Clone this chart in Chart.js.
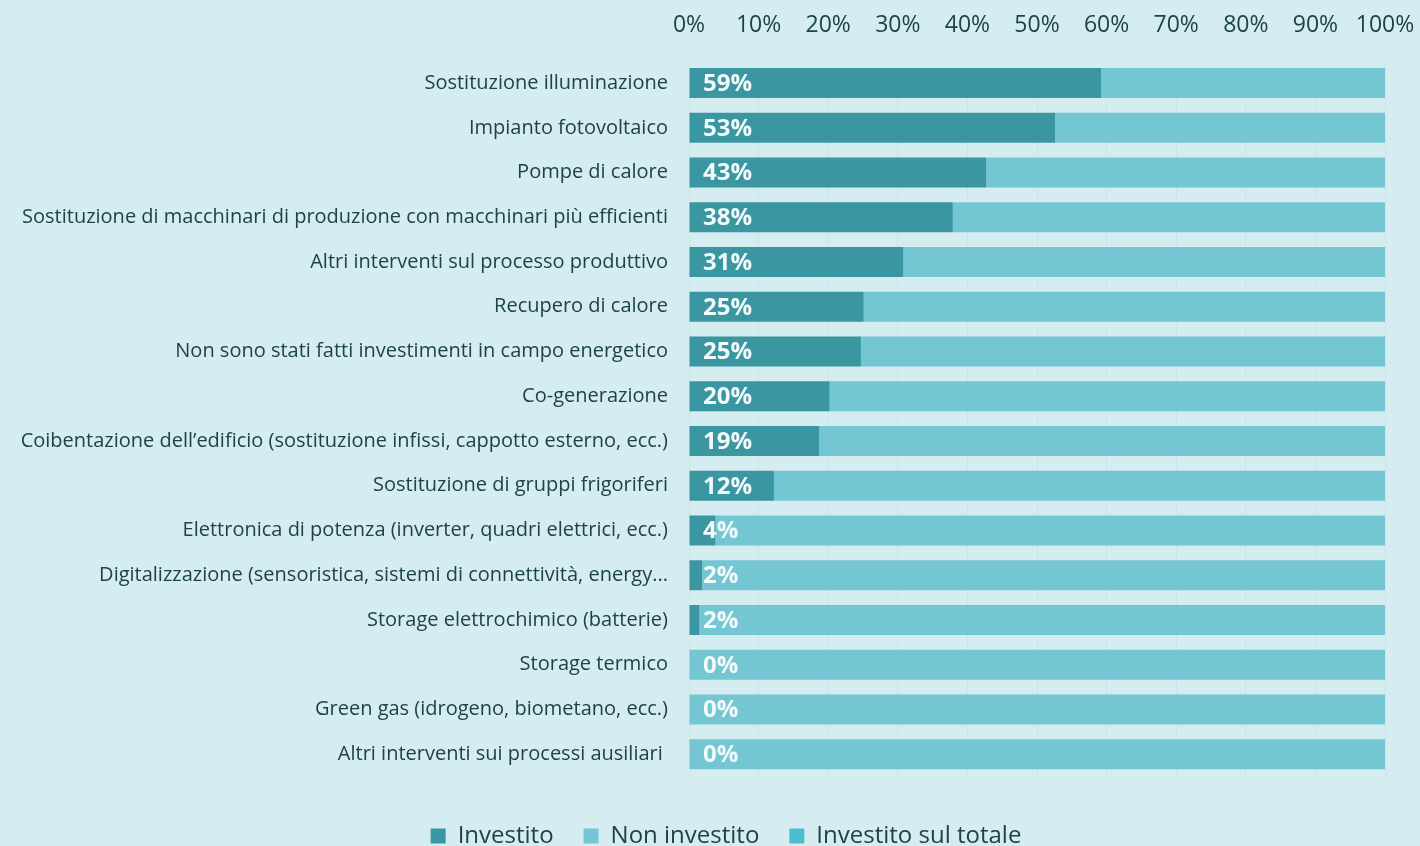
<!DOCTYPE html>
<html>
<head>
<meta charset="utf-8">
<script src="https://cdn.jsdelivr.net/npm/chart.js@4"></script>
<style>
  html, body { margin: 0; padding: 0; background: #d5ecf0; overflow: hidden; }
  #wrap { width: 1420px; height: 858px; position: relative; }
</style>
</head>
<body>
<div id="wrap"><canvas id="chart"></canvas></div>
<script>
const categories = [
  'Sostituzione illuminazione',
  'Impianto fotovoltaico',
  'Pompe di calore',
  'Sostituzione di macchinari di produzione con macchinari più efficienti',
  'Altri interventi sul processo produttivo',
  'Recupero di calore',
  'Non sono stati fatti investimenti in campo energetico',
  'Co-generazione',
  'Coibentazione dell\u2019edificio (sostituzione infissi, cappotto esterno, ecc.)',
  'Sostituzione di gruppi frigoriferi',
  'Elettronica di potenza (inverter, quadri elettrici, ecc.)',
  'Digitalizzazione (sensoristica, sistemi di connettività, energy...',
  'Storage elettrochimico (batterie)',
  'Storage termico',
  'Green gas (idrogeno, biometano, ecc.)',
  'Altri interventi sui processi ausiliari ',
];
const investito    = [59.2, 52.6, 42.7, 37.9, 30.8, 25.1, 24.7, 20.2, 18.7, 12.2, 3.8, 1.9, 1.5, 0, 0, 0];
const nonInvestito = [40.8, 47.4, 57.3, 62.1, 69.2, 74.9, 75.3, 79.8, 81.3, 87.8, 96.2, 98.1, 98.5, 100, 100, 100];
const investitoTotale = [0, 0, 0, 0, 0, 0, 0, 0, 0, 0, 0, 0, 0, 0, 0, 0];
const xTicks = [0, 10, 20, 30, 40, 50, 60, 70, 80, 90, 100];

const FONT = '"Open Sans"';
const DARK = '#1d4349';

// white percentage labels at the start of each row
const valueLabels = {
  id: 'valueLabels',
  afterLayout(chart) {
    // legend sits a bit right of centre in the original
    chart.legend.left += 67;
  },
  afterDatasetsDraw(chart) {
    const { ctx, scales: { x, y } } = chart;
    ctx.save();
    ctx.font = `bold 24px ${FONT}`;
    ctx.fillStyle = '#f2fafb';
    ctx.textAlign = 'left';
    ctx.textBaseline = 'middle';
    investito.forEach((v, i) => {
      ctx.fillText(Math.round(v) + '%', x.getPixelForValue(0) + 14, y.getPixelForValue(i) + 1);
    });
    ctx.restore();
  },
};

new Chart(document.getElementById('chart'), {
  type: 'bar',
  data: {
    labels: categories,
    datasets: [
      { label: 'Investito', data: investito, backgroundColor: '#3a96a0', borderWidth: 0 },
      { label: 'Non investito', data: nonInvestito, backgroundColor: '#73c6d2', borderWidth: 0 },
      { label: 'Investito sul totale', data: investitoTotale, backgroundColor: '#4dbccc', borderWidth: 0 },
    ],
  },
  options: {
    indexAxis: 'y',
    responsive: true,
    maintainAspectRatio: false,
    animation: false,
    layout: { padding: { left: 0, right: 35, top: 0, bottom: 0 } },
    datasets: { bar: { barPercentage: 0.67, categoryPercentage: 1 } },
    plugins: {
      tooltip: { enabled: false },
      legend: {
        position: 'bottom',
        title: { display: true, text: ' ', font: { size: 14.5 }, padding: 0 },
        labels: {
          color: DARK,
          font: { family: FONT, size: 24 },
          boxWidth: 15,
          boxHeight: 15,
          padding: 30,
        },
      },
    },
    scales: {
      x: {
        position: 'top',
        stacked: true,
        min: 0,
        max: 100,
        afterBuildTicks(scale) { scale.ticks = xTicks.map(v => ({ value: v })); },
        afterFit(scale) {
          scale.height = 60.7;
          scale.paddingLeft = 0;
          scale.paddingRight = 0;
        },
        grid: { color: 'rgba(170,210,216,0.25)', drawTicks: false },
        border: { display: false },
        ticks: {
          color: DARK,
          font: { family: FONT, size: 23 },
          padding: 21,
          maxRotation: 0,
          callback: v => v + '%',
        },
      },
      y: {
        stacked: true,
        afterFit(scale) { scale.width = 689; },
        grid: { display: false, drawTicks: false },
        border: { display: false },
        ticks: {
          color: DARK,
          font: { family: FONT, size: 20 },
          padding: 21,
          autoSkip: false,
        },
      },
    },
  },
  plugins: [valueLabels],
});
</script>
</body>
</html>
